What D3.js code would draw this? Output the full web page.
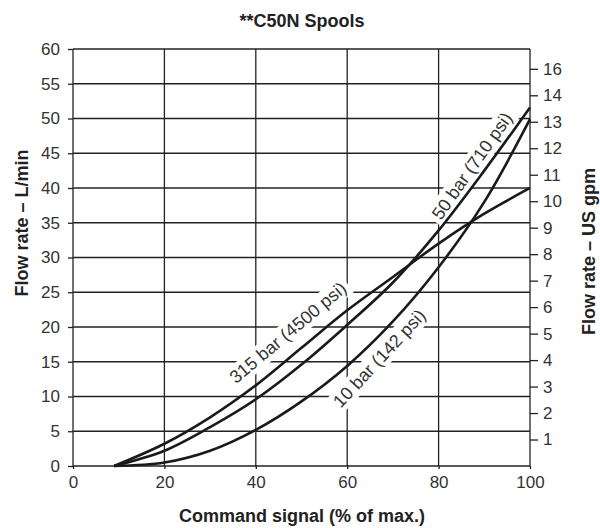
<!DOCTYPE html>
<html>
<head>
<meta charset="utf-8">
<script src="https://cdn.jsdelivr.net/npm/d3@7"></script>
<style>
  body { margin: 0; background: #fff; }
  svg { font-family: "Liberation Sans", Arial, sans-serif; }
  .tick text { fill: #333; font-size: 17px; }
  .ttl { font-weight: bold; font-size: 18px; fill: #222; }
</style>
</head>
<body>
<svg width="600" height="528"></svg>
<script>
// command signal (% of max.)
const signal = [9, 20, 30, 40, 50, 60, 70, 80, 90, 100];
// flow rate L/min per pressure drop
const flow315 = [0, 3.2, 7.0, 11.6, 17.0, 22.4, 27.2, 32.0, 36.3, 40.0];
const flow50 = [0, 2.2, 5.6, 9.6, 14.6, 20.3, 26.4, 33.9, 42.5, 51.6];
const flow10 = [0, 0.5, 2.2, 5.2, 9.3, 14.4, 20.8, 28.6, 38.0, 49.9];

const xTicks = [0, 20, 40, 60, 80, 100];
const yTicks = d3.range(0, 61, 5);
const gpmTicks = d3.range(1, 16);
const gpmLabels = ['1','2','3','4','5','6','7','8','9','10','11','12','13','14','16'];

// label anchors in data units: [x %, y L/min, angle]
const curveLabels = [
  {text: '315 bar (4500 psi)', x: 47.0, y: 19.2, a: -40},
  {text: '50 bar (710 psi)', x: 87.3, y: 43.2, a: -55},
  {text: '10 bar (142 psi)', x: 67.0, y: 15.5, a: -47}
];

const LPM_PER_GPM = 3.81;

const svg = d3.select('svg');
const x = d3.scaleLinear().domain([0, 100]).range([73, 530]);
const y = d3.scaleLinear().domain([0, 60]).range([466, 49]);
const yg = d3.scaleLinear().domain([0, 60 / LPM_PER_GPM]).range([466, 49]);

// grid
const grid = svg.append('g').attr('stroke', '#222').attr('stroke-width', 1.3);
grid.selectAll('.h').data(yTicks).enter().append('line')
  .attr('x1', x(0)).attr('x2', x(100))
  .attr('y1', d => y(d)).attr('y2', d => y(d));
grid.selectAll('.v').data(xTicks).enter().append('line')
  .attr('x1', d => x(d)).attr('x2', d => x(d))
  .attr('y1', y(0)).attr('y2', y(60));

// axes
const left = svg.append('g').attr('transform', `translate(${x(0)},0)`)
  .call(d3.axisLeft(y).tickValues(yTicks).tickSize(5).tickPadding(8));
const bottom = svg.append('g').attr('transform', `translate(0,${y(0)})`)
  .call(d3.axisBottom(x).tickValues(xTicks).tickSize(3).tickPadding(7));
const right = svg.append('g').attr('transform', `translate(${x(100)},0)`)
  .call(d3.axisRight(yg).tickValues(gpmTicks).tickSize(8).tickPadding(5)
    .tickFormat((d, i) => gpmLabels[i]));
[left, bottom, right].forEach(g => {
  g.select('.domain').remove();
  g.selectAll('.tick line').attr('stroke', '#222').attr('stroke-width', 1.3);
  g.attr('font-family', null).attr('font-size', null);
});

// curve labels with white box
curveLabels.forEach(l => {
  const g = svg.append('g')
    .attr('transform', `translate(${x(l.x)},${y(l.y)}) rotate(${l.a})`);
  const t = g.append('text').attr('text-anchor', 'middle').attr('dy', '0.35em')
    .attr('font-size', 18).attr('fill', '#333').text(l.text);
  const b = t.node().getBBox();
  g.insert('rect', 'text').attr('x', b.x - 4).attr('y', b.y - 1)
    .attr('width', b.width + 8).attr('height', b.height + 2).attr('fill', '#fff');
});

// curves
const line = d3.line().x((d, i) => x(signal[i])).y(d => y(d)).curve(d3.curveCatmullRom.alpha(0.5));
svg.selectAll('.curve').data([flow315, flow50, flow10]).enter().append('path')
  .attr('d', line).attr('fill', 'none').attr('stroke', '#1a1a1a').attr('stroke-width', 2.6);

// titles
svg.append('text').attr('class', 'ttl').attr('x', 302).attr('y', 26.5)
  .attr('text-anchor', 'middle').text('**C50N Spools');
svg.append('text').attr('class', 'ttl').attr('x', 302).attr('y', 521.5)
  .attr('text-anchor', 'middle').text('Command signal (% of max.)');
svg.append('text').attr('class', 'ttl').attr('transform', 'translate(28,223) rotate(-90)')
  .attr('text-anchor', 'middle').text('Flow rate – L/min');
svg.append('text').attr('class', 'ttl').attr('transform', 'translate(594.5,251.5) rotate(-90)')
  .attr('text-anchor', 'middle').text('Flow rate – US gpm');
</script>
</body>
</html>
